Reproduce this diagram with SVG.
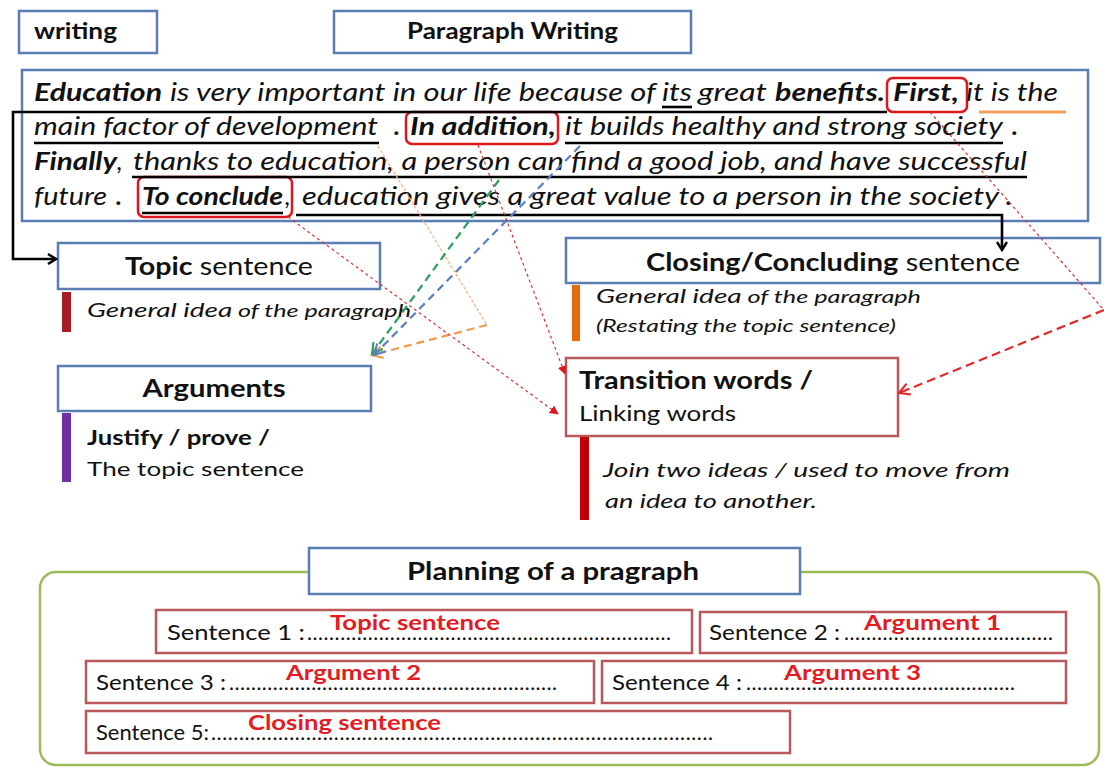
<svg xmlns="http://www.w3.org/2000/svg" width="1104" height="767" viewBox="0 0 1104 767">
<defs>
<style>
.bg{fill:#ffffff}
.box{fill:#ffffff;stroke:#5a7db4;stroke-width:2.5}
.rbox{fill:#ffffff;stroke:#b9575a;stroke-width:2.5}
.hl{fill:none;stroke:#e0161e;stroke-width:2.5}
.t{font-family:Lato,"Open Sans","Liberation Sans",sans-serif;fill:#111}
.p{font-size:25px;font-style:italic}
.b{font-weight:bold}
.i{font-style:italic}
.ul{stroke:#000;stroke-width:2.6;fill:none}
.lab{fill:#e31b23;font-weight:bold;font-size:21px}
.sen{font-size:21px}
.conn{fill:none}
</style>
<marker id="mBlack" viewBox="0 0 12 12" refX="10" refY="6" markerWidth="12" markerHeight="12" markerUnits="userSpaceOnUse" orient="auto"><path d="M2,1 L10,6 L2,11" fill="none" stroke="#000" stroke-width="2.4"/></marker>
<marker id="mRed" viewBox="0 0 10 10" refX="9" refY="5" markerWidth="9" markerHeight="9" markerUnits="userSpaceOnUse" orient="auto"><path d="M0,0 L10,5 L0,10 Z" fill="#e0161e"/></marker>
<marker id="mRedOpen" viewBox="0 0 12 12" refX="10" refY="6" markerWidth="14" markerHeight="14" markerUnits="userSpaceOnUse" orient="auto"><path d="M1,1 L10,6 L1,11" fill="none" stroke="#e02a2a" stroke-width="1.8"/></marker>
<marker id="mOrange" viewBox="0 0 12 12" refX="10" refY="6" markerWidth="14" markerHeight="14" markerUnits="userSpaceOnUse" orient="auto"><path d="M1,1 L10,6 L1,11" fill="none" stroke="#f09a50" stroke-width="1.8"/></marker>
<marker id="mGreen" viewBox="0 0 12 12" refX="10" refY="6" markerWidth="14" markerHeight="14" markerUnits="userSpaceOnUse" orient="auto"><path d="M1,1 L10,6 L1,11" fill="none" stroke="#2ca05a" stroke-width="1.8"/></marker>
<marker id="mBlue" viewBox="0 0 12 12" refX="10" refY="6" markerWidth="14" markerHeight="14" markerUnits="userSpaceOnUse" orient="auto"><path d="M1,1 L10,6 L1,11" fill="none" stroke="#5b7fc0" stroke-width="1.8"/></marker>
</defs>
<rect class="bg" x="0" y="0" width="1104" height="767"/>

<g id="node-writing">
<rect class="box" x="19" y="11" width="138" height="42"/>
<text class="t b" x="34" y="39" font-size="22" textLength="83" lengthAdjust="spacingAndGlyphs">writing</text>
</g>

<g id="node-paragraph-writing">
<rect class="box" x="334" y="11" width="357" height="42"/>
<text class="t b" x="407" y="39" font-size="22" textLength="211" lengthAdjust="spacingAndGlyphs">Paragraph Writing</text>
</g>

<g id="node-paragraph">
<rect class="box" x="22" y="70" width="1066" height="151"/>
<rect class="hl" x="887" y="78" width="80" height="34" rx="6"/>
<rect class="hl" x="406" y="112" width="152" height="32" rx="6"/>
<rect class="hl" x="138" y="177" width="154" height="40" rx="6"/>
<!-- line 1 -->
<text class="t p b" x="34" y="101" textLength="128" lengthAdjust="spacingAndGlyphs">Education</text>
<text class="t p" x="170" y="101" textLength="486" lengthAdjust="spacingAndGlyphs">is very important in our life because of</text>
<text class="t p" x="662" y="101" textLength="30" lengthAdjust="spacingAndGlyphs">its</text>
<text class="t p" x="698" y="101" textLength="69" lengthAdjust="spacingAndGlyphs">great</text>
<text class="t p b" x="775" y="101" textLength="110" lengthAdjust="spacingAndGlyphs">benefits.</text>
<text class="t p b" x="893" y="101" textLength="66" lengthAdjust="spacingAndGlyphs">First,</text>
<text class="t p" x="966" y="101" textLength="92" lengthAdjust="spacingAndGlyphs">it is the</text>
<!-- line 2 -->
<text class="t p" x="34" y="135" textLength="344" lengthAdjust="spacingAndGlyphs">main factor of development</text>
<text class="t p b" x="394" y="135">.</text>
<text class="t p b" x="410" y="135" textLength="146" lengthAdjust="spacingAndGlyphs">In addition,</text>
<text class="t p" x="565" y="135" textLength="438" lengthAdjust="spacingAndGlyphs">it builds healthy and strong society</text>
<text class="t p b" x="1012" y="135">.</text>
<!-- line 3 -->
<text class="t p b" x="34" y="170" textLength="83" lengthAdjust="spacingAndGlyphs">Finally</text>
<text class="t p" x="117" y="170">,</text>
<text class="t p" x="133" y="170" textLength="894" lengthAdjust="spacingAndGlyphs">thanks to education, a person can find a good job, and have successful</text>
<!-- line 4 -->
<text class="t p" x="34" y="205" textLength="73" lengthAdjust="spacingAndGlyphs">future</text>
<text class="t p b" x="116" y="205">.</text>
<text class="t p b" x="142" y="205" textLength="141" lengthAdjust="spacingAndGlyphs">To conclude</text>
<text class="t p" x="285" y="205">,</text>
<text class="t p" x="302" y="205" textLength="697" lengthAdjust="spacingAndGlyphs">education gives a great value to a person in the society</text>
<text class="t p b" x="1006" y="205">.</text>
<!-- underlines -->
<line class="ul" x1="662" y1="107" x2="692" y2="107" stroke-width="2"/>
<line x1="979" y1="112" x2="1066" y2="112" stroke="#f0a060" stroke-width="3"/>
<line class="ul" x1="34" y1="143" x2="379" y2="143"/>
<line class="ul" x1="565" y1="143" x2="1003" y2="143"/>
<line class="ul" x1="132" y1="177" x2="1027" y2="177"/>
<line class="ul" x1="142" y1="213" x2="283" y2="213"/>
</g>

<g id="node-topic">
<rect class="box" x="58" y="243" width="322" height="46"/>
<text class="t" x="219" y="275" font-size="25" text-anchor="middle" textLength="188" lengthAdjust="spacingAndGlyphs"><tspan class="b">Topic</tspan> sentence</text>
<rect x="62" y="292" width="9" height="40" fill="#a51d22"/>
<text class="t i" x="87" y="317" textLength="324" lengthAdjust="spacingAndGlyphs"><tspan font-size="20">General  idea</tspan><tspan font-size="18"> of the paragraph</tspan></text>
</g>

<g id="node-arguments">
<rect class="box" x="58" y="366" width="313" height="45"/>
<text class="t b" x="214" y="397" font-size="25" text-anchor="middle" textLength="143" lengthAdjust="spacingAndGlyphs">Arguments</text>
<rect x="62" y="413" width="9" height="69" fill="#7030a0"/>
<text class="t b" x="87" y="445" font-size="20" textLength="183" lengthAdjust="spacingAndGlyphs">Justify / prove /</text>
<text class="t" x="87" y="476" font-size="20" textLength="217" lengthAdjust="spacingAndGlyphs">The topic sentence</text>
</g>

<g id="node-closing">
<rect class="box" x="566" y="238" width="534" height="45"/>
<text class="t" x="646" y="271" font-size="25" textLength="374" lengthAdjust="spacingAndGlyphs"><tspan class="b">Closing/Concluding</tspan> sentence</text>
<rect x="572" y="285" width="8" height="56" fill="#e46c0a"/>
<text class="t i" x="596" y="303" textLength="325" lengthAdjust="spacingAndGlyphs"><tspan font-size="20">General  idea</tspan><tspan font-size="18"> of the paragraph</tspan></text>
<text class="t i" x="596" y="332" font-size="18" textLength="300" lengthAdjust="spacingAndGlyphs">(Restating  the topic sentence)</text>
</g>

<g id="node-transition">
<rect class="rbox" x="566" y="358" width="332" height="78"/>
<text class="t b" x="579" y="389" font-size="25" textLength="234" lengthAdjust="spacingAndGlyphs">Transition words /</text>
<text class="t" x="579" y="421" font-size="22" textLength="157" lengthAdjust="spacingAndGlyphs">Linking words</text>
<rect x="580" y="437" width="9" height="83" fill="#c00000"/>
<text class="t i" x="603" y="477" font-size="20" textLength="407" lengthAdjust="spacingAndGlyphs">Join two ideas  / used to move from</text>
<text class="t i" x="605" y="508" font-size="20" textLength="212" lengthAdjust="spacingAndGlyphs">an idea to another.</text>
</g>

<g id="node-planning">
<rect x="40" y="572" width="1059" height="193" rx="16" fill="#ffffff" stroke="#9bbb59" stroke-width="2.5"/>
<rect class="box" x="309" y="548" width="491" height="46"/>
<text class="t b" x="553" y="580" font-size="25" text-anchor="middle" textLength="292" lengthAdjust="spacingAndGlyphs">Planning of a pragraph</text>
</g>

<g id="node-sentence1">
<rect class="rbox" x="156" y="610" width="536" height="43"/>
<text class="t sen" x="167" y="640" textLength="138" lengthAdjust="spacingAndGlyphs">Sentence 1 :</text>
<text class="t sen" x="307" y="640" textLength="364" lengthAdjust="spacing">..................................................................</text>
<text class="t lab" x="330" y="630" textLength="170" lengthAdjust="spacingAndGlyphs">Topic sentence</text>
</g>

<g id="node-sentence2">
<rect class="rbox" x="700" y="612" width="366" height="41"/>
<text class="t sen" x="709" y="640" textLength="131" lengthAdjust="spacingAndGlyphs">Sentence 2 :</text>
<text class="t sen" x="844" y="640" textLength="209" lengthAdjust="spacing">......................................</text>
<text class="t lab" x="864" y="630" textLength="137" lengthAdjust="spacingAndGlyphs">Argument 1</text>
</g>

<g id="node-sentence3">
<rect class="rbox" x="86" y="661" width="508" height="42"/>
<text class="t sen" x="96" y="690" textLength="130" lengthAdjust="spacingAndGlyphs">Sentence 3 :</text>
<text class="t sen" x="229" y="690" textLength="328" lengthAdjust="spacing">............................................................</text>
<text class="t lab" x="286" y="680" textLength="135" lengthAdjust="spacingAndGlyphs">Argument 2</text>
</g>

<g id="node-sentence4">
<rect class="rbox" x="602" y="661" width="464" height="42"/>
<text class="t sen" x="612" y="690" textLength="130" lengthAdjust="spacingAndGlyphs">Sentence 4 :</text>
<text class="t sen" x="746" y="690" textLength="269" lengthAdjust="spacing">.................................................</text>
<text class="t lab" x="784" y="680" textLength="137" lengthAdjust="spacingAndGlyphs">Argument 3</text>
</g>

<g id="node-sentence5">
<rect class="rbox" x="86" y="711" width="704" height="42"/>
<text class="t sen" x="96" y="740" textLength="113" lengthAdjust="spacingAndGlyphs">Sentence 5:</text>
<text class="t sen" x="211" y="740" textLength="502" lengthAdjust="spacing">..........................................................................................</text>
<text class="t lab" x="248" y="730" textLength="193" lengthAdjust="spacingAndGlyphs">Closing sentence</text>
</g>

<g id="connectors">
<path class="conn" d="M887,112 H13 V259 H56" stroke="#000" stroke-width="2.6" marker-end="url(#mBlack)"/>
<path class="conn" d="M296,215 H1002 V250" stroke="#000" stroke-width="2.6" marker-end="url(#mBlack)"/>
<path class="conn" d="M378,146 L487,325" stroke="#f4b183" stroke-width="1.3" stroke-dasharray="3,2"/>
<path class="conn" d="M487,325 L372,355" stroke="#f09a50" stroke-width="2.2" stroke-dasharray="8,5" marker-end="url(#mOrange)"/>
<path class="conn" d="M499,180 L372,354" stroke="#2ca05a" stroke-width="2.2" stroke-dasharray="8,5" marker-end="url(#mGreen)"/>
<path class="conn" d="M580,146 L374,355" stroke="#5b7fc0" stroke-width="2.2" stroke-dasharray="8,5" marker-end="url(#mBlue)"/>
<path class="conn" d="M288,217 L558,414" stroke="#e03030" stroke-width="1.2" stroke-dasharray="3,3" marker-end="url(#mRed)"/>
<path class="conn" d="M478,145 L565,374" stroke="#e03030" stroke-width="1.2" stroke-dasharray="3,3" marker-end="url(#mRed)"/>
<path class="conn" d="M930,112 L1104,310" stroke="#e03030" stroke-width="1.2" stroke-dasharray="3,3"/>
<path class="conn" d="M1104,310 L899,393" stroke="#e02a2a" stroke-width="2.2" stroke-dasharray="9,5" marker-end="url(#mRedOpen)"/>
</g>
</svg>
